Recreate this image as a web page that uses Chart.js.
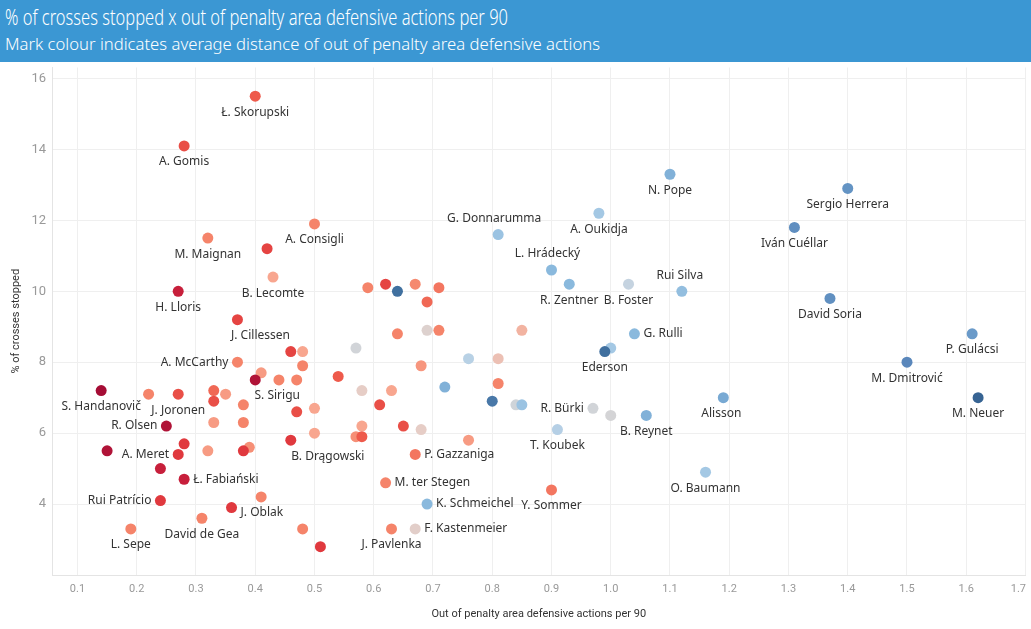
<!DOCTYPE html>
<html>
<head>
<meta charset="utf-8">
<script src="https://cdn.jsdelivr.net/npm/chart.js@4/dist/chart.umd.min.js"></script>
<style>
  html, body { margin: 0; padding: 0; background: #ffffff; }
  #page { position: relative; width: 1031px; height: 629px; overflow: hidden; }
  #header { position: absolute; left: 0; top: 0; width: 1031px; height: 62px; background: #3b97d3; color: #ffffff; }
  #title, #subtitle { position: absolute; left: 5px; white-space: nowrap; font-family: "Noto Sans", sans-serif; transform-origin: 0 50%; }
  #title { top: 4px; font-size: 21px; line-height: 26px; font-weight: 300; }
  #subtitle { top: 33px; font-size: 16px; line-height: 22px; font-weight: 300; }
  #wrap { position: absolute; left: 0; top: 62px; width: 1031px; height: 567px; }
</style>
</head>
<body>
<div id="page">
  <div id="header">
    <div id="title">% of crosses stopped x out of penalty area defensive actions per 90</div>
    <div id="subtitle">Mark colour indicates average distance of out of penalty area defensive actions</div>
  </div>
  <div id="wrap"><canvas id="c" width="1031" height="567"></canvas></div>
</div>
<script>
// ---------- data ----------
const players = [
  "Ł. Skorupski","A. Gomis","A. Consigli","M. Maignan","","B. Lecomte","H. Lloris","J. Cillessen","","",
  "A. McCarthy","","","S. Sirigu","","","","S. Handanovič","","J. Joronen",
  "","","","","","","R. Olsen","","","",
  "B. Drągowski","","","A. Meret","","","","","Ł. Fabiański","Rui Patrício",
  "","J. Oblak","David de Gea","L. Sepe","","",
  "","","","","","","","","","",
  "","","","","","","","","","",
  "","","","","","","","",
  "P. Gazzaniga","M. ter Stegen","Y. Sommer","K. Schmeichel","J. Pavlenka","F. Kastenmeier",
  "N. Pope","A. Oukidja","G. Donnarumma","L. Hrádecký","R. Zentner","B. Foster","Rui Silva","G. Rulli","","Ederson",
  "R. Bürki","","B. Reynet","T. Koubek","O. Baumann",
  "Sergio Herrera","Iván Cuéllar","David Soria","P. Gulácsi","M. Dmitrović","Alisson","M. Neuer"
];
const actionsPer90 = [
  0.40,0.28,0.50,0.32,0.42,0.43,0.27,0.37,0.46,0.48,
  0.37,0.48,0.41,0.40,0.44,0.47,0.54,0.14,0.22,0.27,
  0.33,0.35,0.33,0.38,0.47,0.50,0.25,0.33,0.38,0.50,
  0.46,0.28,0.15,0.27,0.32,0.39,0.38,0.24,0.28,0.24,
  0.41,0.36,0.31,0.19,0.48,0.51,
  0.59,0.62,0.64,0.67,0.71,0.69,0.64,0.69,0.71,0.85,
  0.57,0.76,0.81,0.68,0.58,0.63,0.72,0.81,0.61,0.80,
  0.84,0.85,0.58,0.65,0.68,0.57,0.58,0.76,
  0.67,0.62,0.90,0.69,0.63,0.67,
  1.10,0.98,0.81,0.90,0.93,1.03,1.12,1.04,1.00,0.99,
  0.97,1.00,1.06,0.91,1.16,
  1.40,1.31,1.37,1.61,1.50,1.19,1.62
];
const crossesStopped = [
  15.5,14.1,11.9,11.5,11.2,10.4,10.0,9.2,8.3,8.3,
  8.0,7.9,7.7,7.5,7.5,7.5,7.6,7.2,7.1,7.1,
  7.2,7.1,6.9,6.8,6.6,6.7,6.2,6.3,6.3,6.0,
  5.8,5.7,5.5,5.4,5.5,5.6,5.5,5.0,4.7,4.1,
  4.2,3.9,3.6,3.3,3.3,2.8,
  10.1,10.2,10.0,10.2,10.1,9.7,8.8,8.9,8.9,8.9,
  8.4,8.1,8.1,7.9,7.2,7.2,7.3,7.4,6.8,6.9,
  6.8,6.8,6.2,6.2,6.1,5.9,5.9,5.8,
  5.4,4.6,4.4,4.0,3.3,3.3,
  13.3,12.2,11.6,10.6,10.2,10.2,10.0,8.8,8.4,8.3,
  6.7,6.5,6.5,6.1,4.9,
  12.9,11.8,9.8,8.8,8.0,7.0,7.0
];
const distanceShade = [
  -0.55,-0.6,-0.4,-0.4,-0.65,-0.25,-0.85,-0.65,-0.65,-0.25,
  -0.4,-0.4,-0.3,-0.95,-0.4,-0.4,-0.55,-1.0,-0.4,-0.6,
  -0.5,-0.3,-0.6,-0.4,-0.6,-0.25,-0.95,-0.3,-0.4,-0.25,
  -0.7,-0.7,-0.95,-0.7,-0.3,-0.35,-0.7,-0.85,-0.85,-0.7,
  -0.4,-0.7,-0.4,-0.4,-0.4,-0.7,
  -0.4,-0.65,0.9,-0.38,-0.45,-0.5,-0.4,-0.05,-0.4,-0.2,
  0.02,0.18,-0.15,-0.32,-0.1,-0.25,0.5,-0.4,-0.6,0.85,
  0.03,0.35,-0.25,-0.6,-0.1,-0.35,-0.55,-0.3,
  -0.45,-0.4,-0.45,0.45,-0.4,-0.08,
  0.5,0.3,0.35,0.45,0.45,0.1,0.4,0.45,0.3,0.9,
  0.02,0.0,0.5,0.2,0.3,
  0.65,0.7,0.68,0.62,0.75,0.55,0.95
];
const xTickValues = [0.1,0.2,0.3,0.4,0.5,0.6,0.7,0.8,0.9,1.0,1.1,1.2,1.3,1.4,1.5,1.6,1.7];
const yTickValues = [4,6,8,10,12,14,16];

// ---------- styles ----------
const labelPlacement = {
  "J. Cillessen": {pos:"below", dx:23},
  "S. Sirigu": {pos:"below", dx:22},
  "B. Drągowski": {pos:"below", dx:37},
  "A. McCarthy": {pos:"left"},
  "R. Olsen": {pos:"left"},
  "A. Meret": {pos:"left"},
  "Rui Patrício": {pos:"left"},
  "R. Bürki": {pos:"left"},
  "Ł. Fabiański": {pos:"right"},
  "J. Oblak": {pos:"right", dy:5},
  "G. Rulli": {pos:"right"},
  "P. Gazzaniga": {pos:"right"},
  "M. ter Stegen": {pos:"right"},
  "K. Schmeichel": {pos:"right"},
  "F. Kastenmeier": {pos:"right"},
  "G. Donnarumma": {pos:"above", dx:-4},
  "L. Hrádecký": {pos:"above", dx:-4},
  "Rui Silva": {pos:"above", dx:-2},
  "Alisson": {pos:"below", dx:-2}
};
const colourStops = [
  [-1.0,[165,13,53]],[-0.85,[199,31,59]],[-0.7,[224,57,62]],[-0.55,[238,90,75]],
  [-0.4,[245,132,106]],[-0.25,[248,166,143]],[-0.1,[230,205,198]],[0.0,[212,212,214]],
  [0.15,[189,211,229]],[0.3,[164,200,228]],[0.45,[138,185,221]],[0.55,[120,169,211]],
  [0.65,[100,148,196]],[0.75,[90,135,187]],[0.9,[64,112,159]],[1.0,[46,88,134]]
];
function shadeColour(s){
  for (let i=0;i<colourStops.length-1;i++){
    const a=colourStops[i], b=colourStops[i+1];
    if (s>=a[0] && s<=b[0]){
      const t=(s-a[0])/(b[0]-a[0]);
      const c=a[1].map((v,k)=>Math.round(v+(b[1][k]-v)*t));
      return `rgb(${c[0]},${c[1]},${c[2]})`;
    }
  }
  const c = s<0 ? colourStops[0][1] : colourStops[colourStops.length-1][1];
  return `rgb(${c[0]},${c[1]},${c[2]})`;
}

// fit header text to the reference widths
function fitWidth(id, w){ const el=document.getElementById(id); const r=el.getBoundingClientRect().width; el.style.transform=`scaleX(${w/r})`; }
fitWidth('title', 503); fitWidth('subtitle', 595);

const points = actionsPer90.map((x,i)=>({x:x, y:crossesStopped[i]}));

const labelPlugin = {
  id:'pointLabels',
  afterDatasetsDraw(chart){
    const ctx=chart.ctx; const meta=chart.getDatasetMeta(0);
    ctx.save();
    ctx.font='12px "Noto Sans"'; ctx.fillStyle='#333333'; ctx.textBaseline='middle';
    players.forEach((name,i)=>{
      if(!name) return;
      const el=meta.data[i]; const p=labelPlacement[name]||{pos:'below'};
      const dx=p.dx||0, dy=p.dy||0;
      let x=el.x+dx, y=el.y+dy;
      if(p.pos==='below'){ ctx.textAlign='center'; y+=16; }
      else if(p.pos==='above'){ ctx.textAlign='center'; y-=16; }
      else if(p.pos==='left'){ ctx.textAlign='right'; x-=9; }
      else { ctx.textAlign='left'; x+=9; }
      ctx.fillText(name,x,y);
    });
    ctx.restore();
  }
};
const axisTitlePlugin = {
  id:'axisTitles',
  afterDraw(chart){
    const ctx=chart.ctx, a=chart.chartArea, xs=chart.scales.x;
    ctx.save();
    // x tick labels (last one kept inside the canvas)
    ctx.fillStyle='#999999'; ctx.textBaseline='middle'; ctx.font='11px Roboto';
    xTickValues.forEach(v=>{
      const label=v.toFixed(1); const w=ctx.measureText(label).width;
      let px=xs.getPixelForValue(v);
      px=Math.min(px, chart.width-5-w/2);
      ctx.textAlign='center';
      ctx.fillText(label,px,a.bottom+14);
    });
    ctx.fillStyle='#333333'; ctx.textAlign='center'; ctx.textBaseline='middle';
    ctx.font='11px Roboto';
    ctx.fillText('Out of penalty area defensive actions per 90',(a.left+a.right)/2,552);
    ctx.translate(16,(a.top+a.bottom)/2); ctx.rotate(-Math.PI/2);
    ctx.fillText('% of crosses stopped',0,0);
    ctx.restore();
  }
};

new Chart(document.getElementById('c'),{
  type:'scatter',
  data:{datasets:[{
    data:points,
    backgroundColor:distanceShade.map(shadeColour),
    pointRadius:5.5, pointHoverRadius:5.5, borderWidth:0
  }]},
  options:{
    responsive:false, animation:false,
    layout:{padding:{top:3,right:1,left:0,bottom:0}},
    plugins:{legend:{display:false},tooltip:{enabled:false}},
    scales:{
      x:{type:'linear',min:0.057,max:1.7,
        afterBuildTicks(s){ s.ticks=xTickValues.map(v=>({value:v})); },
        afterFit(s){ s.height=54; s.paddingLeft=0; s.paddingRight=0; },
        grid:{color:'#efefef',drawTicks:false,lineWidth:1},
        border:{color:'#e4e4e4'},
        ticks:{display:false}
      },
      y:{type:'linear',min:2,max:16.31,
        afterBuildTicks(s){ s.ticks=yTickValues.map(v=>({value:v})); },
        afterFit(s){ s.width=52; s.paddingTop=0; s.paddingBottom=0; },
        grid:{color:'#efefef',drawTicks:false,lineWidth:1},
        border:{color:'#e4e4e4'},
        ticks:{padding:6,color:'#999999',font:{family:'Roboto',size:13},autoSkip:false,
          callback:v=>String(v)}
      }
    }
  },
  plugins:[labelPlugin,axisTitlePlugin]
});
</script>
</body>
</html>
